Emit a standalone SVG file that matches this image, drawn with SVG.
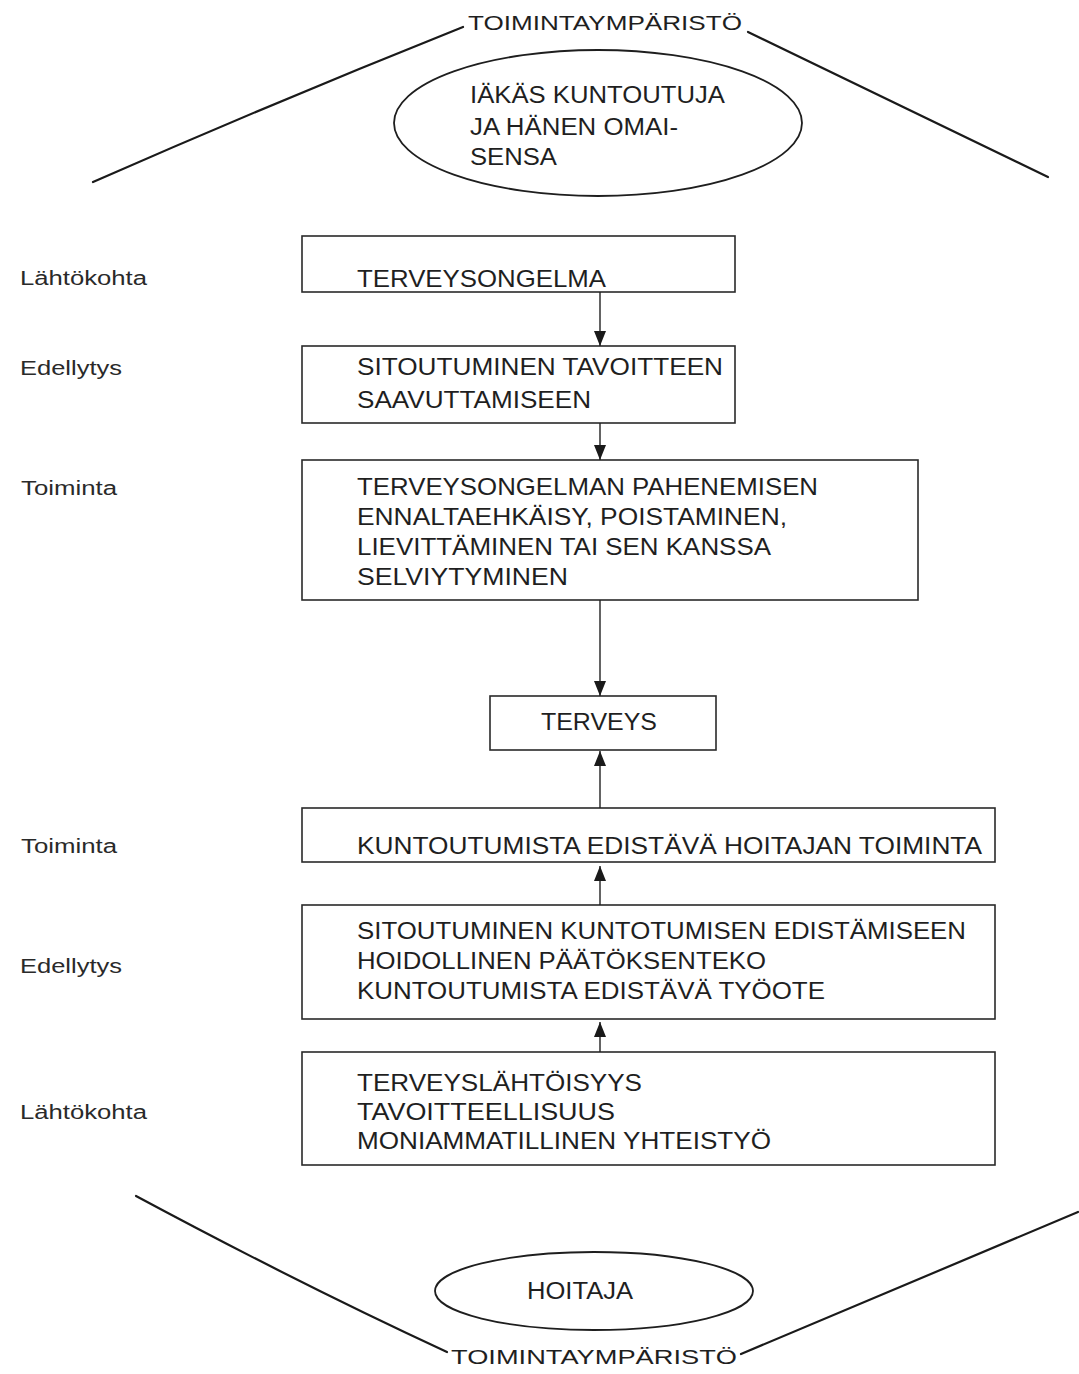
<svg xmlns="http://www.w3.org/2000/svg" width="1079" height="1374" viewBox="0 0 1079 1374">
<style>
  .bg { fill: #ffffff; }
  .box { fill: none; stroke: #2a2a2a; stroke-width: 1.6; }
  .ell { fill: none; stroke: #1e1e1e; stroke-width: 1.8; }
  .env { fill: none; stroke: #1a1a1a; stroke-width: 2.2; stroke-linecap: round; }
  .t { font-family: "Liberation Sans", Arial, sans-serif; font-size: 24px; fill: #1f1f1f; }
  .te { font-family: "Liberation Sans", Arial, sans-serif; font-size: 23px; fill: #1f1f1f; }
  .tt { font-family: "Liberation Sans", Arial, sans-serif; font-size: 21px; fill: #1f1f1f; }
  .lab { font-family: "Liberation Sans", Arial, sans-serif; font-size: 20px; fill: #2a2a2a; }
  .conn { stroke: #222; stroke-width: 1.4; fill: none; }
</style>
<defs>
  <marker id="ah" markerUnits="userSpaceOnUse" markerWidth="15" markerHeight="12" refX="15" refY="6" orient="auto">
    <path d="M0,0 L15,6 L0,12 z" fill="#1a1a1a"/>
  </marker>
</defs>
<rect class="bg" x="0" y="0" width="1079" height="1374"/>

<g id="environment-top">
  <path class="env" d="M93,182 Q280,100 463,27"/>
  <path class="env" d="M748,32 L1048,177"/>
  <text class="tt" x="468" y="30" textLength="274" lengthAdjust="spacingAndGlyphs">TOIMINTAYMPÄRISTÖ</text>
</g>

<g id="node-kuntoutuja">
  <ellipse class="ell" cx="598" cy="123" rx="204" ry="73"/>
  <text class="te" x="470" y="103" textLength="255" lengthAdjust="spacingAndGlyphs">IÄKÄS KUNTOUTUJA</text>
  <text class="te" x="470" y="135" textLength="208" lengthAdjust="spacingAndGlyphs">JA HÄNEN OMAI-</text>
  <text class="te" x="470" y="165" textLength="87" lengthAdjust="spacingAndGlyphs">SENSA</text>
</g>

<g id="labels">
  <text class="lab" x="20" y="285" textLength="127" lengthAdjust="spacingAndGlyphs">Lähtökohta</text>
  <text class="lab" x="20" y="375" textLength="102" lengthAdjust="spacingAndGlyphs">Edellytys</text>
  <text class="lab" x="21" y="495" textLength="96" lengthAdjust="spacingAndGlyphs">Toiminta</text>
  <text class="lab" x="21" y="853" textLength="96" lengthAdjust="spacingAndGlyphs">Toiminta</text>
  <text class="lab" x="20" y="973" textLength="102" lengthAdjust="spacingAndGlyphs">Edellytys</text>
  <text class="lab" x="20" y="1119" textLength="127" lengthAdjust="spacingAndGlyphs">Lähtökohta</text>
</g>

<g id="node-terveysongelma">
  <rect class="box" x="302" y="236" width="433" height="56"/>
  <text class="t" x="357" y="287" textLength="249" lengthAdjust="spacingAndGlyphs">TERVEYSONGELMA</text>
</g>

<g id="node-sitoutuminen-tavoite">
  <rect class="box" x="302" y="346" width="433" height="77"/>
  <text class="t" x="357" y="375" textLength="366" lengthAdjust="spacingAndGlyphs">SITOUTUMINEN TAVOITTEEN</text>
  <text class="t" x="357" y="408" textLength="234" lengthAdjust="spacingAndGlyphs">SAAVUTTAMISEEN</text>
</g>

<g id="node-toiminta-potilas">
  <rect class="box" x="302" y="460" width="616" height="140"/>
  <text class="t" x="357" y="495" textLength="461" lengthAdjust="spacingAndGlyphs">TERVEYSONGELMAN PAHENEMISEN</text>
  <text class="t" x="357" y="525" textLength="430" lengthAdjust="spacingAndGlyphs">ENNALTAEHKÄISY, POISTAMINEN,</text>
  <text class="t" x="357" y="555" textLength="414" lengthAdjust="spacingAndGlyphs">LIEVITTÄMINEN TAI SEN KANSSA</text>
  <text class="t" x="357" y="585" textLength="211" lengthAdjust="spacingAndGlyphs">SELVIYTYMINEN</text>
</g>

<g id="node-terveys">
  <rect class="box" x="490" y="696" width="226" height="54"/>
  <text class="t" x="541" y="730" textLength="116" lengthAdjust="spacingAndGlyphs">TERVEYS</text>
</g>

<g id="node-hoitajan-toiminta">
  <rect class="box" x="302" y="808" width="693" height="54"/>
  <text class="t" x="357" y="854" textLength="625" lengthAdjust="spacingAndGlyphs">KUNTOUTUMISTA EDISTÄVÄ HOITAJAN TOIMINTA</text>
</g>

<g id="node-edellytys-hoitaja">
  <rect class="box" x="302" y="905" width="693" height="114"/>
  <text class="t" x="357" y="939" textLength="609" lengthAdjust="spacingAndGlyphs">SITOUTUMINEN KUNTOTUMISEN EDISTÄMISEEN</text>
  <text class="t" x="357" y="969" textLength="409" lengthAdjust="spacingAndGlyphs">HOIDOLLINEN PÄÄTÖKSENTEKO</text>
  <text class="t" x="357" y="999" textLength="468" lengthAdjust="spacingAndGlyphs">KUNTOUTUMISTA EDISTÄVÄ TYÖOTE</text>
</g>

<g id="node-lahtokohta-hoitaja">
  <rect class="box" x="302" y="1052" width="693" height="113"/>
  <text class="t" x="357" y="1091" textLength="285" lengthAdjust="spacingAndGlyphs">TERVEYSLÄHTÖISYYS</text>
  <text class="t" x="357" y="1120" textLength="258" lengthAdjust="spacingAndGlyphs">TAVOITTEELLISUUS</text>
  <text class="t" x="357" y="1149" textLength="414" lengthAdjust="spacingAndGlyphs">MONIAMMATILLINEN YHTEISTYÖ</text>
</g>

<g id="node-hoitaja">
  <ellipse class="ell" cx="594" cy="1291" rx="159" ry="39"/>
  <text class="te" x="527" y="1299" textLength="106" lengthAdjust="spacingAndGlyphs">HOITAJA</text>
</g>

<g id="environment-bottom">
  <path class="env" d="M136,1196 Q300,1284 447,1352"/>
  <path class="env" d="M741,1354 L1078,1212"/>
  <text class="tt" x="451" y="1364" textLength="286" lengthAdjust="spacingAndGlyphs">TOIMINTAYMPÄRISTÖ</text>
</g>

<g id="connectors">
  <line class="conn" x1="600" y1="292" x2="600" y2="346" marker-end="url(#ah)"/>
  <line class="conn" x1="600" y1="423" x2="600" y2="460" marker-end="url(#ah)"/>
  <line class="conn" x1="600" y1="600" x2="600" y2="696" marker-end="url(#ah)"/>
  <line class="conn" x1="600" y1="808" x2="600" y2="751" marker-end="url(#ah)"/>
  <line class="conn" x1="600" y1="905" x2="600" y2="866" marker-end="url(#ah)"/>
  <line class="conn" x1="600" y1="1052" x2="600" y2="1022" marker-end="url(#ah)"/>
</g>
</svg>
